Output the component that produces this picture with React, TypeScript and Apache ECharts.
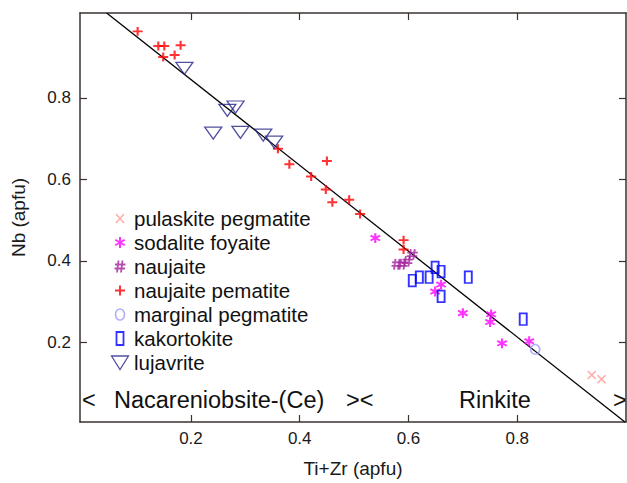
import React, { useEffect, useRef } from "react";
import * as echarts from "echarts";

const FONT = '"Liberation Sans", Arial, Helvetica, sans-serif';
const AX = "#3a3230";

const xTicks = [0.2, 0.4, 0.6, 0.8];
const yTicks = [0.2, 0.4, 0.6, 0.8];

const seriesNames = [
  "pulaskite pegmatite",
  "sodalite foyaite",
  "naujaite",
  "naujaite pematite",
  "marginal pegmatite",
  "kakortokite",
  "lujavrite",
];

const pulaskite = [
  [0.937, 0.12],
  [0.955, 0.11],
];
const sodalite = [
  [0.539, 0.456],
  [0.66, 0.342],
  [0.649, 0.325],
  [0.7, 0.272],
  [0.752, 0.269],
  [0.75, 0.25],
  [0.772, 0.198],
  [0.822, 0.203],
];
const naujaite = [
  [0.579, 0.392],
  [0.589, 0.392],
  [0.598, 0.399],
  [0.607, 0.416],
];
const naujaitePeg = [
  [0.102, 0.963],
  [0.14, 0.927],
  [0.151, 0.927],
  [0.149, 0.9],
  [0.17, 0.905],
  [0.181, 0.929],
  [0.36, 0.675],
  [0.381, 0.637],
  [0.45, 0.645],
  [0.421, 0.607],
  [0.448, 0.575],
  [0.46, 0.544],
  [0.491, 0.55],
  [0.511, 0.515],
  [0.591, 0.451],
  [0.591, 0.428],
];
const marginal = [[0.833, 0.183]];
const kakortokite = [
  [0.607, 0.352],
  [0.62, 0.36],
  [0.638, 0.36],
  [0.649, 0.384],
  [0.66, 0.374],
  [0.66, 0.313],
  [0.71, 0.36],
  [0.811, 0.257],
];
const lujavrite = [
  [0.188, 0.873],
  [0.267, 0.77],
  [0.282, 0.778],
  [0.241, 0.714],
  [0.291, 0.716],
  [0.333, 0.709],
  [0.353, 0.692],
];
const trendLine = [
  [0.045, 1.008],
  [0.998, 0.005],
];

const PAD = "M0,0M18,16";
const SYM = {
  x: "path://" + PAD + "M5,3.5L13,12.5M13,3.5L5,12.5",
  star: "path://" + PAD + "M9,2.5V13.5M4.24,5.25L13.76,10.75M4.24,10.75L13.76,5.25",
  hash: "path://" + PAD + "M7.5,2L6,14M11.5,2L10,14M4,6H14.5M3.5,10H14",
  plus: "path://" + PAD + "M4,8H14M9,3V13",
  circ: "path://" + PAD + "M9,2.5A4.5,5.5,0,1,1,9,13.5A4.5,5.5,0,1,1,9,2.5Z",
  rect: "path://" + PAD + "M5.5,1.5H12.5V14.5H5.5Z",
  tri: "path://" + PAD + "M0.5,1.5H17.5L9,15Z",
};

function scatter(name: string, data: number[][], symbol: string, color: string, width: number) {
  return {
    type: "scatter",
    name,
    data,
    symbol,
    symbolSize: [18, 16],
    symbolKeepAspect: true,
    itemStyle: { color: "rgba(0,0,0,0)", borderColor: color, borderWidth: width },
    emphasis: { disabled: true },
  };
}

export default function App() {
  const ref = useRef<HTMLDivElement>(null);
  useEffect(() => {
    if (!ref.current) return;
    const chart = echarts.init(ref.current, undefined, { renderer: "svg" });
    const xBase = {
      type: "value",
      min: -0.004,
      max: 1.0,
      splitLine: { show: false },
      axisLine: { show: true, onZero: false, lineStyle: { color: AX, width: 1.5 } },
      axisTick: { show: true, inside: true, length: 7, customValues: xTicks, lineStyle: { color: AX, width: 1.2 } },
    };
    const yBase = {
      type: "value",
      min: 0.005,
      max: 1.008,
      splitLine: { show: false },
      axisLine: { show: true, onZero: false, lineStyle: { color: AX, width: 1.5 } },
      axisTick: { show: true, inside: true, length: 7, customValues: yTicks, lineStyle: { color: AX, width: 1.2 } },
    };
    const textStyle = { fontFamily: FONT, color: "#1a1a1a" };
    const annot = (x: number, text: string) => ({
      type: "text",
      x,
      y: 400,
      style: { text, fontSize: 23.5, fontFamily: FONT, fill: "#111", verticalAlign: "middle" },
    });
    chart.setOption({
      animation: false,
      textStyle: { fontFamily: FONT },
      grid: { left: 80, right: 1, top: 13, bottom: 60 },
      xAxis: [
        {
          ...xBase,
          position: "bottom",
          axisLabel: { customValues: xTicks, fontSize: 17, margin: 8, ...textStyle, formatter: (v: number) => v.toFixed(1) },
          name: "Ti+Zr (apfu)",
          nameLocation: "middle",
          nameGap: 37,
          nameTextStyle: { fontSize: 19, ...textStyle },
        },
        { ...xBase, position: "top", axisLabel: { show: false } },
      ],
      yAxis: [
        {
          ...yBase,
          position: "left",
          axisLabel: { customValues: yTicks, fontSize: 17, margin: 9, ...textStyle, formatter: (v: number) => v.toFixed(1) },
          name: "Nb (apfu)",
          nameLocation: "middle",
          nameGap: 52,
          nameTextStyle: { fontSize: 19, ...textStyle },
        },
        { ...yBase, position: "right", axisLabel: { show: false } },
      ],
      legend: {
        data: seriesNames,
        orient: "vertical",
        left: 110,
        top: 208,
        padding: 0,
        itemWidth: 18,
        itemHeight: 16,
        itemGap: 3,
        symbolKeepAspect: true,
        selectedMode: false,
        itemStyle: { borderWidth: "inherit" },
        textStyle: { fontSize: 20.5, lineHeight: 20, fontFamily: FONT, color: "#111" },
      },
      graphic: [
        annot(82, "<"),
        annot(114, "Nacareniobsite-(Ce)"),
        annot(346, "><"),
        annot(459, "Rinkite"),
        annot(613, ">"),
      ],
      series: [
        {
          type: "line",
          name: "trend",
          data: trendLine,
          showSymbol: false,
          symbol: "none",
          lineStyle: { color: "#000", width: 1.3 },
          emphasis: { disabled: true },
          z: 1,
        },
        scatter(seriesNames[0], pulaskite, SYM.x, "#ff9a9a", 1.6),
        scatter(seriesNames[1], sodalite, SYM.star, "#ff00ff", 2),
        scatter(seriesNames[2], naujaite, SYM.hash, "#a3209c", 1.8),
        scatter(seriesNames[3], naujaitePeg, SYM.plus, "#ff0000", 2),
        scatter(seriesNames[4], marginal, SYM.circ, "#9b9bff", 1.6),
        scatter(seriesNames[5], kakortokite, SYM.rect, "#0000ff", 1.8),
        scatter(seriesNames[6], lujavrite, SYM.tri, "#24248a", 1.3),
      ],
    });
    return () => chart.dispose();
  }, []);
  return <div ref={ref} style={{ position: "absolute", left: 0, top: 0, width: 627, height: 483 }} />;
}
